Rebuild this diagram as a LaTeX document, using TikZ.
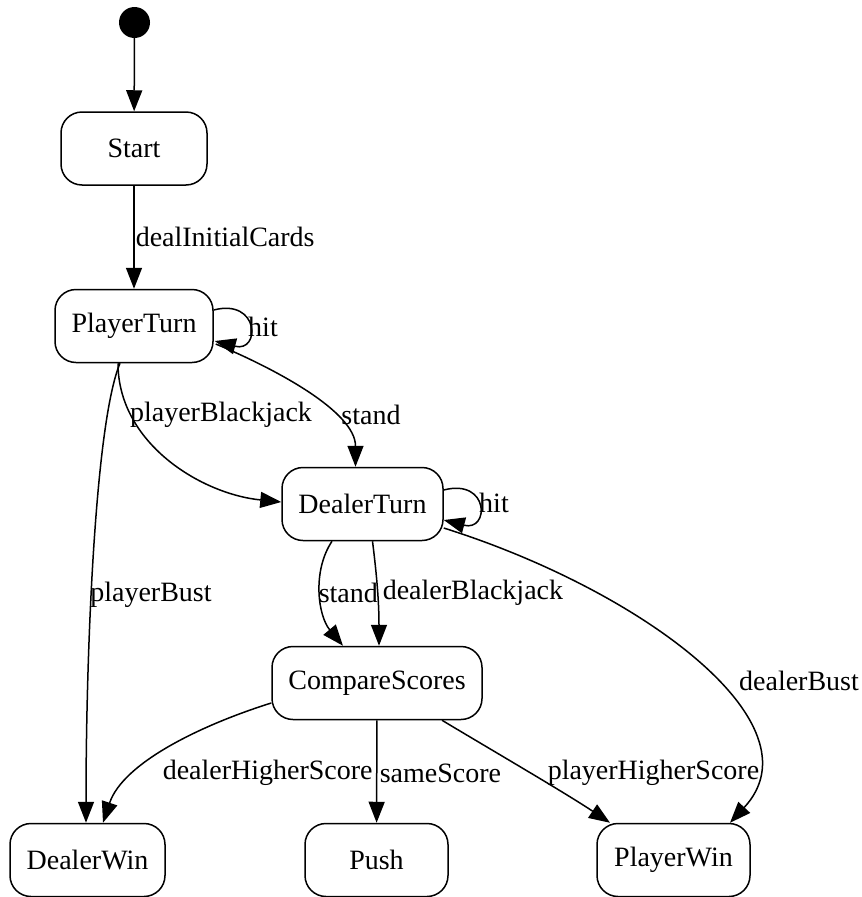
\documentclass[tikz,border=0pt]{standalone}
\usepackage{fontspec}
\setmainfont{Liberation Serif}
\newfontfamily\statefont{Liberation Serif}
\usetikzlibrary{arrows.meta,calc}
\begin{document}
\begin{tikzpicture}[x=1pt,y=-1pt,
  state/.style={draw, line width=1.5pt, rounded corners=21pt, minimum height=73pt,
                inner sep=0pt, font=\statefont\fontsize{28}{34}\selectfont},
  trans/.style={line width=1.5pt, -{Triangle[length=21pt,width=16pt]}},
  lbl/.style={font=\statefont\fontsize{28}{34}\selectfont, inner sep=0pt},
]
\useasboundingbox (0,0) rectangle (862,897);

% states
\node[circle, fill=black, minimum size=31pt, inner sep=0pt] (init) at (134.5,22.5) {};
\node[state, minimum width=146pt] (start) at (134,148.5) {Start};
\node[state, minimum width=158pt] (PT) at (134,326) {PlayerTurn};
\node[state, minimum width=161pt] (DT) at (362.5,504) {DealerTurn};
\node[state, minimum width=210pt] (CS) at (377,683) {CompareScores};
\node[state, minimum width=155pt] (DW) at (87.5,860) {DealerWin};
\node[state, minimum width=143pt] (PU) at (376.5,860) {Push};
\node[state, minimum width=153pt] (PW) at (673.5,860) {PlayerWin};

% transitions
\draw[trans] (init) -- (start);
\draw[trans] (start) -- node[lbl, anchor=west, xshift=1pt] {dealInitialCards} (PT);

\draw[trans] ($(PT.east)+(0,-16)$) .. controls +(46,-12) and +(46,12) .. ($(PT.east)+(1,15)$)
  node[lbl, at={(263,327)}] {hit};

\draw[trans] ($(PT.east)+(2,18)$) .. controls +(60,25) and +(0,-55) .. ($(DT.north)+(-7,0)$)
  node[lbl, at={(371,415)}] {stand};

\draw[trans] ($(PT.south)+(-16,0)$) .. controls +(0,80) and +(-80,-8) .. ($(DT.west)+(0,-2)$)
  node[lbl, at={(221,415)}] {playerBlackjack};

\draw[trans] ($(PT.south)+(-14,0)$) .. controls +(-25,60) and +(0,-170) .. ($(DW.north)+(-1.5,0)$)
  node[lbl, at={(151,595)}] {playerBust};

\draw[trans] ($(DT.east)+(0,-14)$) .. controls +(46,-12) and +(46,12) .. ($(DT.east)+(0,16)$)
  node[lbl, at={(494,503)}] {hit};

\draw[trans] ($(DT.east)+(0,24)$) .. controls +(197,62) and +(92,-99) .. ($(PW.north)+(56.5,0)$)
  node[lbl, at={(799,681)}] {dealerBust};

\draw[trans] ($(DT.south)+(-30.5,0)$) .. controls +(-20,30) and +(-25,-30) .. ($(CS.north)+(-34,0)$)
  node[lbl, anchor=west, at={(318,593)}] {stand};

\draw[trans] ($(DT.south)+(10,0)$) .. controls +(5,40) and +(0,-40) .. ($(CS.north)+(2,0)$)
  node[lbl, anchor=west, at={(382,593)}] {dealerBlackjack};

\draw[trans] ($(CS.west)+(0,20)$) .. controls +(-70,22) and +(20,-60) .. ($(DW.north)+(15.5,0)$)
  node[lbl, anchor=west, at={(162,773)}] {dealerHigherScore};

\draw[trans] (CS) -- (PU)
  node[lbl, anchor=west, at={(379,773)}] {sameScore};

\draw[trans] ($(CS.south)+(65,0)$) .. controls +(50,30) and +(-45,-30) .. ($(PW.north)+(-63.5,0)$)
  node[lbl, anchor=west, at={(547,773)}] {playerHigherScore};
\end{tikzpicture}
\end{document}
